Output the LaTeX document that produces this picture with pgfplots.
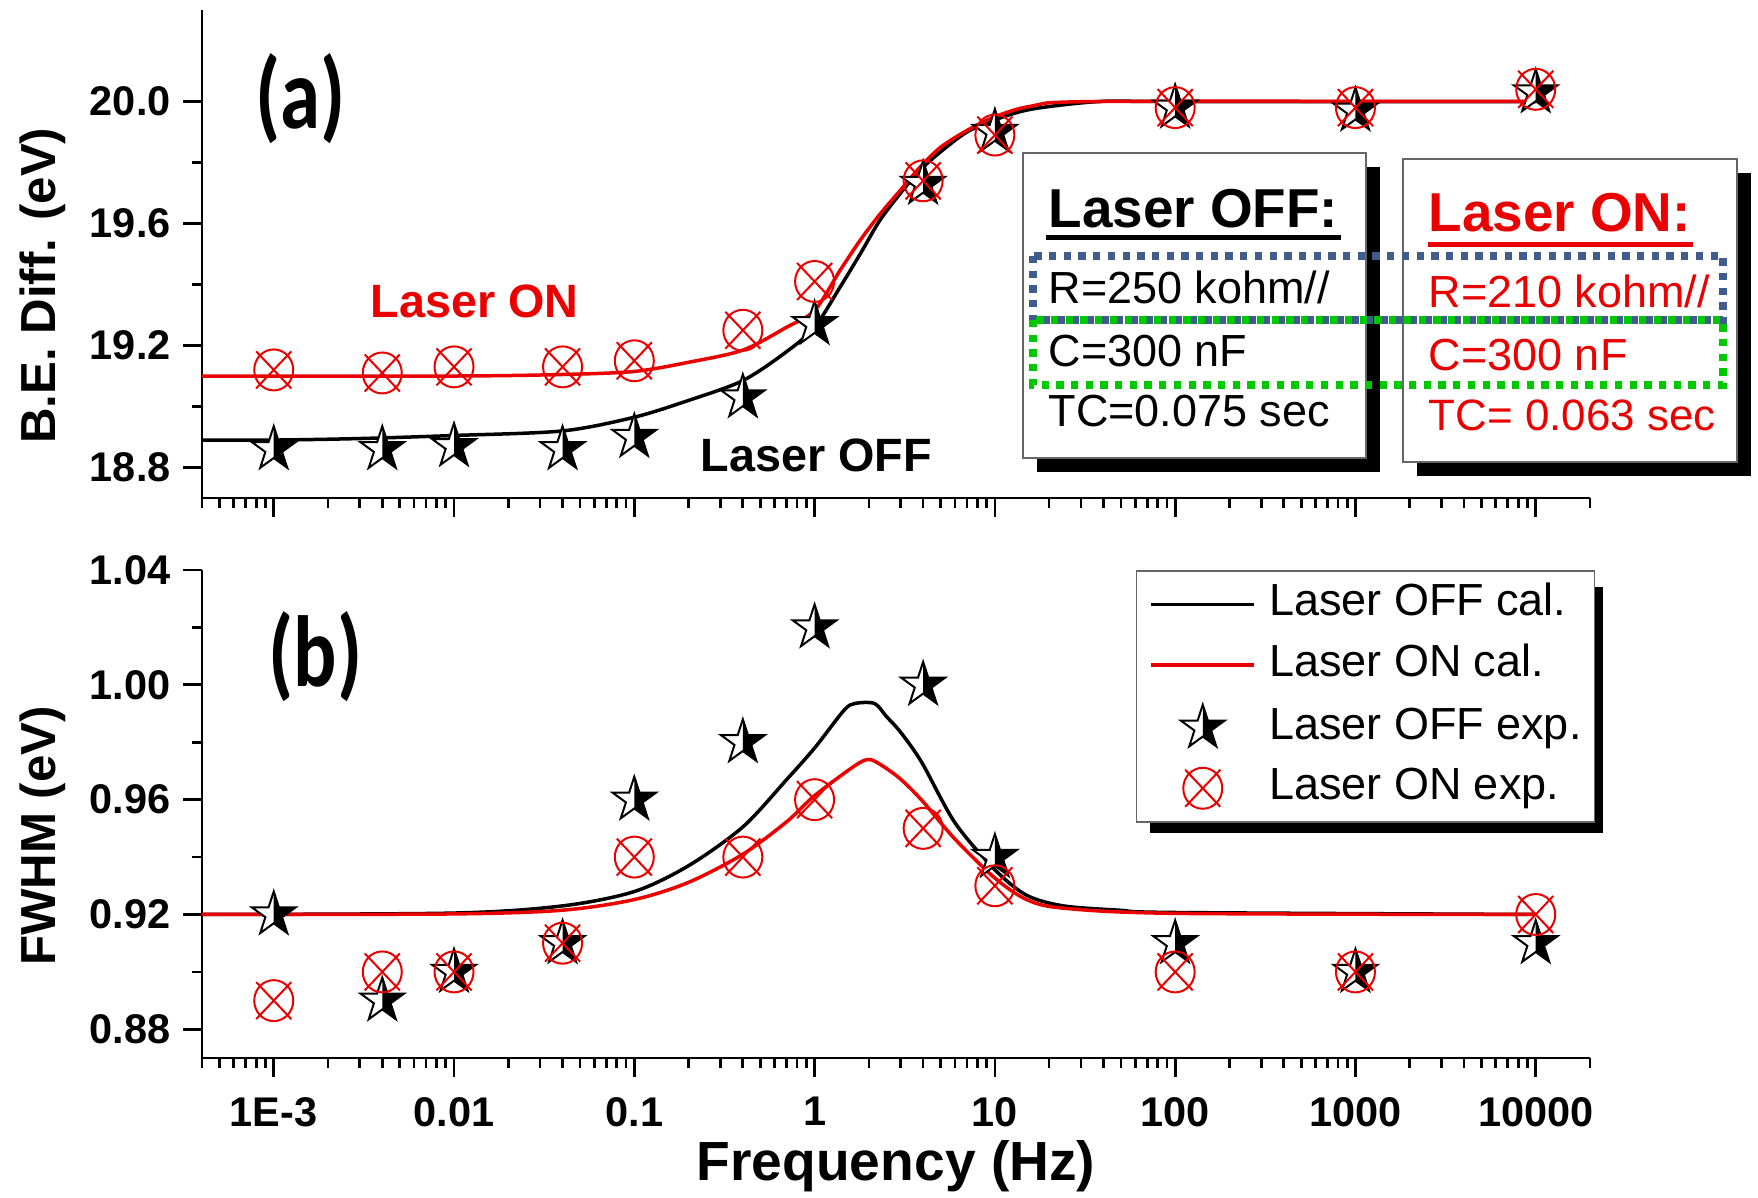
\documentclass[border=0pt]{standalone}
\usepackage{fontspec}
\setmainfont{Liberation Sans}
\newfontfamily\calib{Carlito}
\usepackage{graphicx}
\usepackage{pgfplots}
\pgfplotsset{compat=1.18}
\definecolor{myred}{RGB}{235,0,0}
\definecolor{dotblue}{RGB}{62,92,140}
\definecolor{dotgreen}{RGB}{0,200,0}

\pgfdeclareplotmark{halfstar}{%
  \pgfpathmoveto{\pgfpointpolar{90}{\pgfplotmarksize}}%
  \pgfpathlineto{\pgfpointpolar{126}{0.382*\pgfplotmarksize}}%
  \pgfpathlineto{\pgfpointpolar{162}{\pgfplotmarksize}}%
  \pgfpathlineto{\pgfpointpolar{198}{0.382*\pgfplotmarksize}}%
  \pgfpathlineto{\pgfpointpolar{234}{\pgfplotmarksize}}%
  \pgfpathlineto{\pgfpointpolar{270}{0.382*\pgfplotmarksize}}%
  \pgfpathlineto{\pgfpointpolar{306}{\pgfplotmarksize}}%
  \pgfpathlineto{\pgfpointpolar{342}{0.382*\pgfplotmarksize}}%
  \pgfpathlineto{\pgfpointpolar{18}{\pgfplotmarksize}}%
  \pgfpathlineto{\pgfpointpolar{54}{0.382*\pgfplotmarksize}}%
  \pgfpathclose
  \pgfsetfillcolor{white}\pgfusepath{fill}%
  \pgfpathmoveto{\pgfpointpolar{90}{\pgfplotmarksize}}%
  \pgfpathlineto{\pgfpointpolar{54}{0.382*\pgfplotmarksize}}%
  \pgfpathlineto{\pgfpointpolar{18}{\pgfplotmarksize}}%
  \pgfpathlineto{\pgfpointpolar{342}{0.382*\pgfplotmarksize}}%
  \pgfpathlineto{\pgfpointpolar{306}{\pgfplotmarksize}}%
  \pgfpathlineto{\pgfpointpolar{270}{0.382*\pgfplotmarksize}}%
  \pgfpathclose
  \pgfsetfillcolor{black}\pgfusepath{fill}%
  \pgfpathmoveto{\pgfpointpolar{90}{\pgfplotmarksize}}%
  \pgfpathlineto{\pgfpointpolar{126}{0.382*\pgfplotmarksize}}%
  \pgfpathlineto{\pgfpointpolar{162}{\pgfplotmarksize}}%
  \pgfpathlineto{\pgfpointpolar{198}{0.382*\pgfplotmarksize}}%
  \pgfpathlineto{\pgfpointpolar{234}{\pgfplotmarksize}}%
  \pgfpathlineto{\pgfpointpolar{270}{0.382*\pgfplotmarksize}}%
  \pgfpathlineto{\pgfpointpolar{306}{\pgfplotmarksize}}%
  \pgfpathlineto{\pgfpointpolar{342}{0.382*\pgfplotmarksize}}%
  \pgfpathlineto{\pgfpointpolar{18}{\pgfplotmarksize}}%
  \pgfpathlineto{\pgfpointpolar{54}{0.382*\pgfplotmarksize}}%
  \pgfpathclose
  \pgfusepath{stroke}%
}
\pgfdeclareplotmark{cx}{%
  \pgfpathellipse{\pgfpointorigin}{\pgfqpoint{\pgfplotmarksize}{0pt}}{\pgfpoint{0pt}{1.05*\pgfplotmarksize}}%
  \pgfpathmoveto{\pgfpoint{-0.9*\pgfplotmarksize}{-0.95*\pgfplotmarksize}}%
  \pgfpathlineto{\pgfpoint{0.9*\pgfplotmarksize}{0.95*\pgfplotmarksize}}%
  \pgfpathmoveto{\pgfpoint{-0.9*\pgfplotmarksize}{0.95*\pgfplotmarksize}}%
  \pgfpathlineto{\pgfpoint{0.9*\pgfplotmarksize}{-0.95*\pgfplotmarksize}}%
  \pgfusepath{stroke}%
}

\pgfplotsset{
  offcal/.style={black, line width=0.35mm, smooth, no marks,
    legend image code/.code={\draw[##1] (0mm,0mm) -- (10.3mm,0mm);}},
  oncal/.style={myred, line width=0.35mm, smooth, no marks,
    legend image code/.code={\draw[##1] (0mm,0mm) -- (10.3mm,0mm);}},
  offexp/.style={black, only marks, mark=halfstar, mark size=2.3mm, mark options={line width=0.2mm},
    legend image code/.code={\draw[##1,mark repeat=2,mark phase=2] plot coordinates {(0mm,0mm) (5.15mm,0mm) (10.3mm,0mm)};}},
  onexp/.style={myred, only marks, mark=cx, mark size=1.95mm, mark options={line width=0.2mm},
    legend image code/.code={\draw[##1,mark repeat=2,mark phase=2] plot coordinates {(0mm,0mm) (5.15mm,0mm) (10.3mm,0mm)};}},
}

\begin{document}
\begin{tikzpicture}
% ---------------- panel (a)
\begin{axis}[
  scale only axis, width=138.8mm, height=48.8mm,
  xmode=log, xmin=4e-4, xmax=2e4,
  axis lines=left, axis line style={-, line width=0.27mm},
  tick align=outside, major tick length=1.9mm, minor tick length=1.0mm,
  tick style={line width=0.27mm, black},
  xtick={1e-3,1e-2,1e-1,1,10,100,1000,10000},
  minor xtick={4e-4,5e-4,6e-4,7e-4,8e-4,9e-4,
    2e-3,3e-3,4e-3,5e-3,6e-3,7e-3,8e-3,9e-3,
    2e-2,3e-2,4e-2,5e-2,6e-2,7e-2,8e-2,9e-2,
    0.2,0.3,0.4,0.5,0.6,0.7,0.8,0.9,
    2,3,4,5,6,7,8,9,
    20,30,40,50,60,70,80,90,
    200,300,400,500,600,700,800,900,
    2000,3000,4000,5000,6000,7000,8000,9000,20000},
  ticklabel style={font=\fontsize{11.8}{13}\selectfont\bfseries},
  minor y tick num=1,
  at={(20.2mm,-49.8mm)}, anchor=south west,
  ymin=18.7, ymax=20.3,
  ytick={18.8,19.2,19.6,20.0}, yticklabels={18.8,19.2,19.6,20.0},
  xticklabels={},
  ylabel={B.E. Diff. (eV)},
  ylabel style={font=\fontsize{14}{16}\selectfont\bfseries, at={(axis description cs:-0.1059,0.435)}, anchor=base},
]
\addplot[offcal] coordinates {
 (4e-4,18.89) (1e-3,18.89) (3e-3,18.895) (1e-2,18.905) (4e-2,18.92) (0.1,18.965)
 (0.2,19.02) (0.4,19.085) (0.7,19.18) (1,19.26) (1.38,19.39) (1.79,19.50)
 (2.3,19.61) (3,19.70) (3.85,19.775) (5,19.835) (7,19.90) (10,19.94)
 (16,19.975) (38,20.0) (100,20.0) (1e4,20.0)};
\addplot[oncal] coordinates {
 (4e-4,19.10) (1e-2,19.10) (4e-2,19.105) (0.1,19.115) (0.2,19.145) (0.4,19.185)
 (0.7,19.26) (1,19.315) (1.38,19.445) (1.79,19.545) (2.3,19.63) (3,19.71)
 (3.85,19.785) (5,19.85) (7,19.905) (10,19.95) (16,19.985) (38,20.0) (1e4,20.0)};
\addplot[offexp] coordinates {
 (1e-3,18.86) (4e-3,18.86) (1e-2,18.87) (4e-2,18.86) (0.1,18.90) (0.4,19.03)
 (1,19.27) (4,19.73) (10,19.90) (100,19.98) (1000,19.97) (10000,20.03)};
\addplot[onexp] coordinates {
 (1e-3,19.12) (4e-3,19.11) (1e-2,19.13) (4e-2,19.13) (0.1,19.15) (0.4,19.25)
 (1,19.41) (4,19.74) (10,19.89) (100,19.98) (1000,19.98) (10000,20.04)};
\end{axis}

% shadow of the legend box of panel (b), drawn before that axis
\begin{scope}[x=0.1mm,y=-0.1mm]
 \fill[black] (1150,587) rectangle (1603,833);
\end{scope}

% ---------------- panel (b)
\begin{axis}[
  scale only axis, width=138.8mm, height=48.8mm,
  xmode=log, xmin=4e-4, xmax=2e4,
  axis lines=left, axis line style={-, line width=0.27mm},
  tick align=outside, major tick length=1.9mm, minor tick length=1.0mm,
  tick style={line width=0.27mm, black},
  xtick={1e-3,1e-2,1e-1,1,10,100,1000,10000},
  minor xtick={4e-4,5e-4,6e-4,7e-4,8e-4,9e-4,
    2e-3,3e-3,4e-3,5e-3,6e-3,7e-3,8e-3,9e-3,
    2e-2,3e-2,4e-2,5e-2,6e-2,7e-2,8e-2,9e-2,
    0.2,0.3,0.4,0.5,0.6,0.7,0.8,0.9,
    2,3,4,5,6,7,8,9,
    20,30,40,50,60,70,80,90,
    200,300,400,500,600,700,800,900,
    2000,3000,4000,5000,6000,7000,8000,9000,20000},
  ticklabel style={font=\fontsize{11.8}{13}\selectfont\bfseries},
  xticklabel style={yshift=-0.8mm},
  minor y tick num=1,
  at={(20.2mm,-105.8mm)}, anchor=south west,
  ymin=0.87, ymax=1.04,
  ytick={0.88,0.92,0.96,1.00,1.04}, yticklabels={0.88,0.92,0.96,1.00,1.04},
  xticklabels={1E-3,0.01,0.1,1,10,100,1000,10000},
  xlabel={Frequency (Hz)},
  xlabel style={font=\fontsize{15.7}{18}\selectfont\bfseries, at={(axis description cs:0.5,0)}, anchor=base, yshift=-12.2mm},
  ylabel={FWHM (eV)},
  ylabel style={font=\fontsize{14}{16}\selectfont\bfseries, at={(axis description cs:-0.1059,0.455)}, anchor=base},
  legend cell align=left,
  legend style={at={(axis description cs:0.6729,1.0)}, anchor=north west,
    draw=black!60, line width=0.15mm, fill=white,
    font=\fontsize{12.8}{15}\selectfont,
    inner xsep=1.28mm, inner ysep=1.2mm, row sep=1.75mm, column sep=1.3mm,
    nodes={inner sep=0pt, text height=3.3mm, text depth=1.0mm}},
]
\addplot[offcal] coordinates {
 (4e-4,0.92) (1e-2,0.9205) (4e-2,0.923) (0.1,0.928) (0.2,0.937) (0.4,0.9505)
 (0.7,0.967) (1,0.978) (1.45,0.991) (1.67,0.9935) (2.15,0.9935) (2.5,0.989)
 (3,0.9835) (3.93,0.973) (6,0.952) (10,0.9356) (15,0.9267) (24,0.923)
 (49,0.9215) (100,0.9207) (1e4,0.92)};
\addlegendentry{Laser OFF cal.}
\addplot[oncal] coordinates {
 (4e-4,0.92) (1e-2,0.9202) (4e-2,0.9215) (0.1,0.9252) (0.2,0.9312) (0.4,0.941)
 (0.7,0.9523) (1,0.9614) (1.67,0.9718) (2.0,0.974) (2.35,0.972) (2.98,0.9673)
 (3.93,0.9598) (6,0.9463) (10,0.9327) (15,0.9252) (24,0.9222) (100,0.9204) (1e4,0.92)};
\addlegendentry{Laser ON cal.}
\addplot[offexp] coordinates {
 (1e-3,0.92) (4e-3,0.89) (1e-2,0.90) (4e-2,0.91) (0.1,0.96) (0.4,0.98)
 (1,1.02) (4,1.00) (10,0.94) (100,0.91) (1000,0.90) (10000,0.91)};
\addlegendentry{Laser OFF exp.}
\addplot[onexp] coordinates {
 (1e-3,0.89) (4e-3,0.90) (1e-2,0.90) (4e-2,0.91) (0.1,0.94) (0.4,0.94)
 (1,0.96) (4,0.95) (10,0.93) (100,0.90) (1000,0.90) (10000,0.92)};
\addlegendentry{Laser ON exp.}
\end{axis}

% ---------------- annotations (pixel coordinates of the reference)
\begin{scope}[x=0.1mm,y=-0.1mm]
 \node[anchor=base west, inner sep=0pt, font=\calib\fontsize{23}{26}\selectfont\bfseries] at (255,128) {\scalebox{1}[1.25]{(a)}};
 \node[anchor=base west, inner sep=0pt, font=\calib\fontsize{23}{26}\selectfont\bfseries] at (268,686) {\scalebox{1}[1.25]{(b)}};
 \node[anchor=base west, inner sep=0pt, text=myred, font=\fontsize{13.3}{15}\selectfont\bfseries] at (370,317) {Laser ON};
 \node[anchor=base west, inner sep=0pt, font=\fontsize{13.3}{15}\selectfont\bfseries] at (700,471) {Laser OFF};
 % boxes with shadows
 \fill[black] (1037,167) rectangle (1380,472);
 \draw[black!60, line width=0.15mm, fill=white] (1023,153) rectangle (1366,458);
 \fill[black] (1417,173) rectangle (1751,476);
 \draw[black!60, line width=0.15mm, fill=white] (1403,159) rectangle (1737,462);
 % left box text
 \node[anchor=base west, inner sep=0pt, font=\fontsize{15.6}{18}\selectfont\bfseries] at (1048,227) {Laser OFF:};
 \draw[line width=0.5mm] (1046,237) -- (1341,237);
 \node[anchor=base west, inner sep=0pt, font=\fontsize{12.8}{15}\selectfont] at (1048,303) {R=250 kohm//};
 \node[anchor=base west, inner sep=0pt, font=\fontsize{12.8}{15}\selectfont] at (1048,366) {C=300 nF};
 \node[anchor=base west, inner sep=0pt, font=\fontsize{12.8}{15}\selectfont] at (1048,426) {TC=0.075 sec};
 % right box text
 \node[anchor=base west, inner sep=0pt, text=myred, font=\fontsize{15.6}{18}\selectfont\bfseries] at (1428,231) {Laser ON:};
 \draw[myred, line width=0.5mm] (1428,244) -- (1693,244);
 \node[anchor=base west, inner sep=0pt, text=myred, font=\fontsize{12.8}{15}\selectfont] at (1428,307) {R=210 kohm//};
 \node[anchor=base west, inner sep=0pt, text=myred, font=\fontsize{12.8}{15}\selectfont] at (1428,370) {C=300 nF};
 \node[anchor=base west, inner sep=0pt, text=myred, font=\fontsize{12.5}{15}\selectfont] at (1428,430) {TC= 0.063 sec};
 % dotted frames
 \draw[dotblue, line width=0.73mm, dash pattern=on 0.73mm off 0.74mm] (1033,256) rectangle (1723,320);
 \draw[dotgreen, line width=0.73mm, dash pattern=on 0.73mm off 0.74mm] (1033,320) rectangle (1723,385);
\end{scope}
\pgfresetboundingbox
\path (0,0) rectangle (175.8mm,-119.7mm);
\end{tikzpicture}
\end{document}
